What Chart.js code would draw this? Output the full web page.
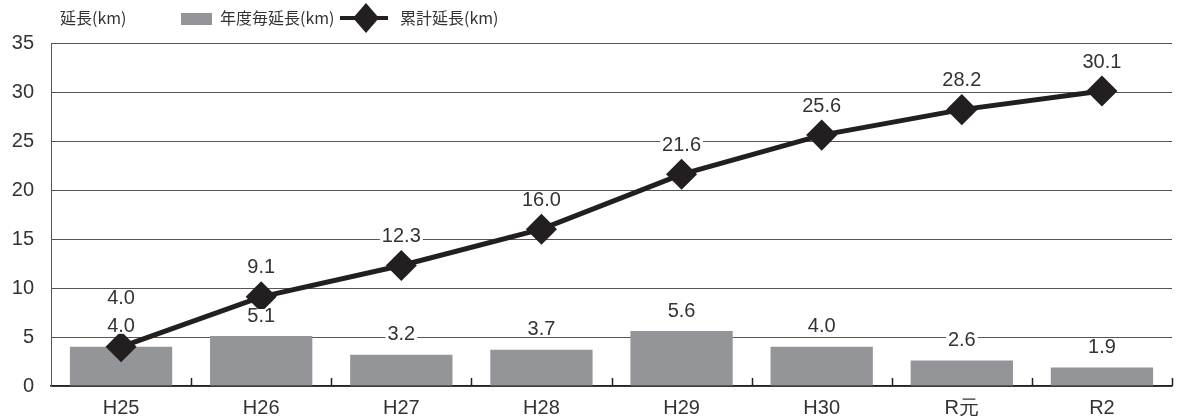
<!DOCTYPE html>
<html>
<head>
<meta charset="utf-8">
<script src="https://cdn.jsdelivr.net/npm/chart.js@4.4.0/dist/chart.umd.min.js"></script>
<style>
  html, body { margin: 0; padding: 0; background: #fff; }
  #wrap { width: 1178px; height: 416px; }
</style>
</head>
<body>
<div id="wrap"><canvas id="chart" width="1178" height="416"></canvas></div>
<script>
const categories = ["H25", "H26", "H27", "H28", "H29", "H30", "R元", "R2"];
const yearly = [4.0, 5.1, 3.2, 3.7, 5.6, 4.0, 2.6, 1.9];
const cumulative = [4.0, 9.1, 12.3, 16.0, 21.6, 25.6, 28.2, 30.1];
const yTicks = [0, 5, 10, 15, 20, 25, 30, 35];

const FONT = "'Liberation Sans', Arial, sans-serif";
const JP = "'Noto Sans CJK JP', 'Noto Sans', sans-serif";
const BAR = "#939598";
const LINE = "#231f20";

// value labels with white box behind, like the original print
const valueLabels = {
  id: "valueLabels",
  afterDatasetsDraw(chart) {
    const ctx = chart.ctx;
    const bars = chart.getDatasetMeta(0).data;
    const pts = chart.getDatasetMeta(1).data;
    ctx.save();
    ctx.font = "20px " + FONT;
    ctx.textAlign = "center";
    ctx.textBaseline = "middle";
    const put = (txt, x, y) => {
      const w = ctx.measureText(txt).width;
      ctx.fillStyle = "#fff";
      ctx.fillRect(x - w / 2 - 2, y - 7, w + 4, 14);
      ctx.fillStyle = "#333";
      ctx.fillText(txt, x, y);
    };
    bars.forEach((b, i) => {
      const by = b.y - 20;
      put(yearly[i].toFixed(1), b.x, by);
      const p = pts[i];
      let ly = p.y - 29;
      if (ly > by - 26) ly = by - 28;
      put(cumulative[i].toFixed(1), p.x, ly);
    });
    ctx.restore();
  }
};

// short inward ticks between categories + legend on top
const extras = {
  id: "extras",
  afterDraw(chart) {
    const ctx = chart.ctx;
    const x = chart.scales.x;
    const area = chart.chartArea;
    const half = (x.getPixelForValue(1) - x.getPixelForValue(0)) / 2;
    ctx.save();
    ctx.strokeStyle = "#222";
    ctx.lineWidth = 1.5;
    for (let i = 1; i <= categories.length; i++) {
      const px = Math.round(x.getPixelForValue(i) - half) + 0.5;
      ctx.beginPath();
      ctx.moveTo(px, area.bottom);
      ctx.lineTo(px, area.bottom - 8);
      ctx.stroke();
    }

    ctx.font = "16px " + JP;
    ctx.fillStyle = "#333";
    ctx.textBaseline = "middle";
    ctx.textAlign = "left";
    ctx.fillText("延長(km)", 60, 18);

    ctx.fillStyle = BAR;
    ctx.fillRect(181, 13, 31, 12);
    ctx.fillStyle = "#333";
    ctx.fillText(chart.data.datasets[0].label, 220, 18);

    ctx.strokeStyle = LINE;
    ctx.lineWidth = 4;
    ctx.beginPath();
    ctx.moveTo(340, 18);
    ctx.lineTo(388, 18);
    ctx.stroke();
    ctx.fillStyle = LINE;
    ctx.beginPath();
    ctx.moveTo(366, 3);
    ctx.lineTo(379, 18);
    ctx.lineTo(366, 33);
    ctx.lineTo(353, 18);
    ctx.closePath();
    ctx.fill();
    ctx.fillStyle = "#333";
    ctx.fillText(chart.data.datasets[1].label, 400, 18);
    ctx.restore();
  }
};

new Chart(document.getElementById("chart"), {
  data: {
    labels: categories,
    datasets: [
      {
        type: "bar",
        label: "年度毎延長(km)",
        data: yearly,
        backgroundColor: BAR,
        barPercentage: 0.73,
        categoryPercentage: 1.0,
        order: 2
      },
      {
        type: "line",
        label: "累計延長(km)",
        data: cumulative,
        borderColor: LINE,
        backgroundColor: LINE,
        borderWidth: 5,
        pointStyle: "rectRot",
        pointRadius: 12,
        pointHoverRadius: 12,
        tension: 0,
        clip: false,
        order: 1
      }
    ]
  },
  options: {
    responsive: false,
    animation: false,
    layout: { autoPadding: false, padding: { top: 43, right: 6, left: 0, bottom: 0 } },
    plugins: {
      legend: { display: false },
      tooltip: { enabled: false }
    },
    scales: {
      x: {
        afterFit(scale) {
          scale.height = 30;
          scale.paddingLeft = 0;
          scale.paddingRight = 0;
        },
        grid: { display: false },
        border: { color: "#222", width: 1.5 },
        ticks: { color: "#333", font: { size: 20, family: FONT }, padding: 2 }
      },
      y: {
        min: 0,
        max: 35,
        afterBuildTicks(scale) {
          scale.ticks = yTicks.map(v => ({ value: v }));
        },
        afterFit(scale) { scale.width = 51; },
        grid: { color: "#555", lineWidth: 1, drawTicks: false },
        border: { color: "#555", width: 1 },
        ticks: { color: "#333", font: { size: 20, family: FONT }, padding: 17 }
      }
    }
  },
  plugins: [valueLabels, extras]
});
</script>
</body>
</html>
